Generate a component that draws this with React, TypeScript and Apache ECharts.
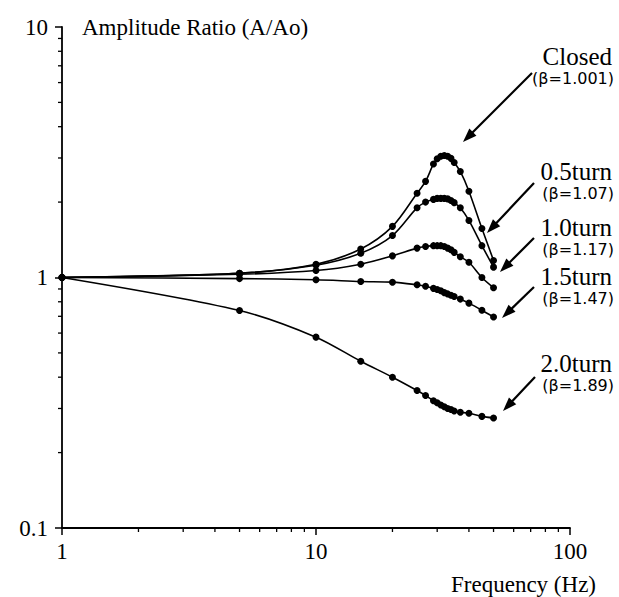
import React, { useEffect, useRef } from "react";
import * as echarts from "echarts";

const freqs = [1, 5, 10, 15, 20, 25, 27, 29, 30, 31, 32, 33, 34, 35, 37, 40, 45, 50];
const closedVals = [1, 1.04, 1.13, 1.3, 1.6, 2.17, 2.42, 2.84, 2.98, 3.05, 3.07, 3.05, 2.99, 2.88, 2.65, 2.21, 1.57, 1.17];
const turn05Vals = [1, 1.04, 1.12, 1.25, 1.47, 1.9, 2.0, 2.05, 2.07, 2.07, 2.07, 2.06, 2.03, 1.99, 1.9, 1.69, 1.34, 1.1];
const turn10Vals = [1, 1.03, 1.066, 1.13, 1.22, 1.31, 1.33, 1.34, 1.34, 1.34, 1.33, 1.31, 1.29, 1.26, 1.21, 1.15, 1.0, 0.91];
const turn15Vals = [1, 0.99, 0.98, 0.964, 0.958, 0.935, 0.923, 0.905, 0.895, 0.885, 0.87, 0.86, 0.85, 0.84, 0.82, 0.79, 0.74, 0.695];
const turn20Vals = [1, 0.738, 0.578, 0.463, 0.4, 0.354, 0.338, 0.322, 0.316, 0.31, 0.305, 0.3, 0.297, 0.293, 0.29, 0.287, 0.279, 0.275];

const xMinorTicks = [2, 3, 4, 5, 6, 7, 8, 9, 20, 30, 40, 50, 60, 70, 80, 90];
const yMinorTicks = [0.2, 0.3, 0.4, 0.5, 0.6, 0.7, 0.8, 0.9, 2, 3, 4, 5, 6, 7, 8, 9];

const labelNames = ["Closed", "0.5turn", "1.0turn", "1.5turn", "2.0turn"];
const labelBetas = ["(β=1.001)", "(β=1.07)", "(β=1.17)", "(β=1.47)", "(β=1.89)"];

const SERIF = "'Liberation Serif', 'Times New Roman', serif";
const SANS = "'DejaVu Sans', 'Liberation Sans', Arial, sans-serif";

function arrow(x1: number, y1: number, x2: number, y2: number) {
  const dx = x2 - x1;
  const dy = y2 - y1;
  const len = Math.sqrt(dx * dx + dy * dy);
  const ux = dx / len;
  const uy = dy / len;
  const headLen = 14;
  const headW = 5;
  const bx = x2 - ux * headLen;
  const by = y2 - uy * headLen;
  return [
    {
      type: "line",
      shape: { x1, y1, x2: bx + ux * 2, y2: by + uy * 2 },
      style: { stroke: "#000", lineWidth: 2.2 },
      silent: true,
    },
    {
      type: "polygon",
      shape: {
        points: [
          [x2, y2],
          [bx - uy * headW, by + ux * headW],
          [bx + uy * headW, by - ux * headW],
        ],
      },
      style: { fill: "#000" },
      silent: true,
    },
  ];
}

export default function App() {
  const ref = useRef<HTMLDivElement>(null);
  useEffect(() => {
    if (!ref.current) return;
    const chart = echarts.init(ref.current, undefined, { renderer: "svg" });
    const mk = (name: string, vals: number[]) => ({
      name,
      type: "line",
      data: freqs.map((f, i) => [f, vals[i]]),
      smooth: 0.3,
      symbol: "circle",
      symbolSize: 7,
      showSymbol: true,
      lineStyle: { color: "#000", width: 1.6 },
      itemStyle: { color: "#000" },
      z: 3,
    });
    const nameCenters = [56, 171, 227, 276, 363];
    const texts: any[] = [];
    labelNames.forEach((name, i) => {
      texts.push({
        type: "text",
        x: 612,
        y: nameCenters[i],
        style: { text: name, font: `25px ${SERIF}`, fill: "#000", align: "right", verticalAlign: "middle" },
      });
      texts.push({
        type: "text",
        x: 614,
        y: nameCenters[i] + 22,
        style: { text: labelBetas[i], font: `16px ${SANS}`, fill: "#000", align: "right", verticalAlign: "middle" },
      });
    });
    const arrows = [
      ...arrow(532, 73, 463, 142),
      ...arrow(534, 183, 487, 233),
      ...arrow(534, 238, 500, 272),
      ...arrow(534, 287, 502, 318),
      ...arrow(535, 377, 503, 411),
    ];
    chart.setOption({
      animation: false,
      backgroundColor: "#fff",
      grid: { left: 62, top: 27, width: 508, height: 501, containLabel: false },
      xAxis: {
        type: "log",
        logBase: 10,
        min: 1,
        max: 100,
        axisLine: { lineStyle: { color: "#000", width: 1.8 } },
        axisTick: { show: true, length: 7, lineStyle: { color: "#000", width: 1.5 } },
        axisLabel: { color: "#000", fontSize: 23, fontFamily: SERIF, margin: 12 },
        splitLine: { show: false },
      },
      yAxis: {
        type: "log",
        logBase: 10,
        min: 0.1,
        max: 10,
        axisLine: { lineStyle: { color: "#000", width: 1.8 } },
        axisTick: { show: true, length: 7, lineStyle: { color: "#000", width: 1.5 } },
        axisLabel: { color: "#000", fontSize: 23, fontFamily: SERIF, margin: 14 },
        splitLine: { show: false },
      },
      series: [
        mk("Closed", closedVals),
        mk("0.5turn", turn05Vals),
        mk("1.0turn", turn10Vals),
        mk("1.5turn", turn15Vals),
        mk("2.0turn", turn20Vals),
        {
          type: "custom",
          silent: true,
          clip: false,
          data: xMinorTicks.map((v) => [v, 0.1]),
          renderItem: (params: any, api: any) => {
            const p = api.coord([api.value(0), api.value(1)]);
            return {
              type: "line",
              shape: { x1: p[0], y1: p[1], x2: p[0], y2: p[1] + 4 },
              style: { stroke: "#000", lineWidth: 1.3 },
            };
          },
        },
        {
          type: "custom",
          silent: true,
          clip: false,
          data: yMinorTicks.map((v) => [1, v]),
          renderItem: (params: any, api: any) => {
            const p = api.coord([api.value(0), api.value(1)]);
            return {
              type: "line",
              shape: { x1: p[0], y1: p[1], x2: p[0] - 4, y2: p[1] },
              style: { stroke: "#000", lineWidth: 1.3 },
            };
          },
        },
      ],
      graphic: [
        {
          type: "text",
          x: 82,
          y: 27,
          style: { text: "Amplitude Ratio (A/Ao)", font: `23px ${SERIF}`, fill: "#000", verticalAlign: "middle" },
        },
        {
          type: "text",
          x: 596,
          y: 584,
          style: { text: "Frequency (Hz)", font: `23px ${SERIF}`, fill: "#000", align: "right", verticalAlign: "middle" },
        },
        ...texts,
        ...arrows,
      ],
    });
    return () => chart.dispose();
  }, []);
  return <div ref={ref} style={{ width: 619, height: 597, position: "absolute", left: 0, top: 0 }} />;
}
